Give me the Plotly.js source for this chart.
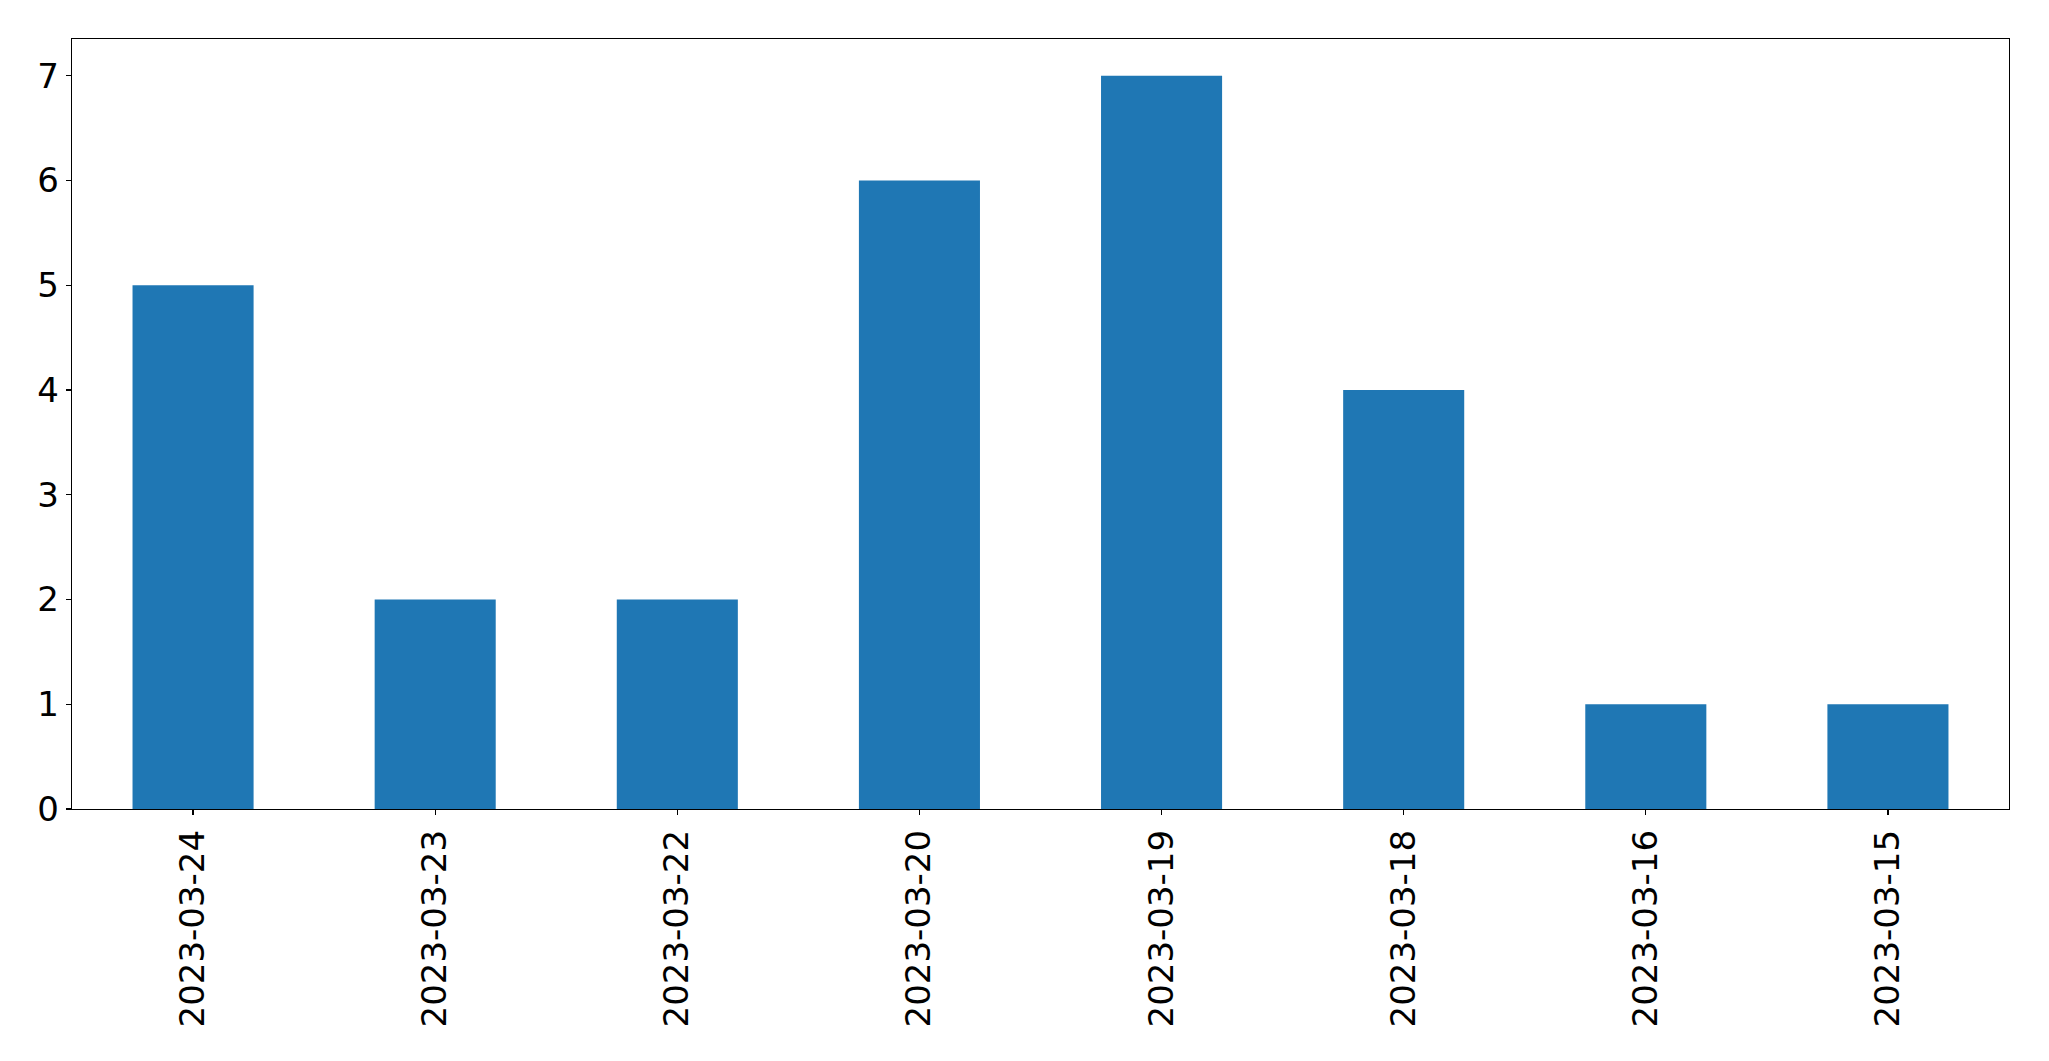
<!DOCTYPE html>
<html>
<head>
<meta charset="utf-8">
<script src="https://cdn.plot.ly/plotly-3.0.1.min.js"></script>
<style>html,body{margin:0;padding:0;background:#fff;}#chart{width:2049px;height:1061px;}</style>
</head>
<body>
<div id="chart"></div>
<script>
const dates = ["2023-03-24","2023-03-23","2023-03-22","2023-03-20","2023-03-19","2023-03-18","2023-03-16","2023-03-15"];
const counts = [5, 2, 2, 6, 7, 4, 1, 1];
const yTicks = [0, 1, 2, 3, 4, 5, 6, 7];

const trace = {
  type: "bar",
  x: dates,
  y: counts,
  width: 0.5,
  marker: {color: "#1f77b4", line: {width: 0}},
  hoverinfo: "x+y"
};

const font = {family: "DejaVu Sans, sans-serif", size: 34, color: "#000"};

const layout = {
  width: 2049,
  height: 1061,
  margin: {l: 72, r: 40, t: 39, b: 252, pad: 0},
  paper_bgcolor: "#fff",
  plot_bgcolor: "#fff",
  showlegend: false,
  bargap: 0.5,
  xaxis: {
    type: "category",
    range: [-0.5, 7.5],
    tickangle: -90,
    tickfont: font,
    ticks: "outside",
    ticklen: 5,
    tickwidth: 1.3,
    tickcolor: "#000",
    showline: true,
    mirror: true,
    linecolor: "#000",
    linewidth: 1.3,
    showgrid: false,
    zeroline: false,
    ticklabelstandoff: 1
  },
  yaxis: {
    range: [0, 7.35],
    tickmode: "array",
    tickvals: yTicks,
    ticktext: yTicks.map(String),
    tickfont: font,
    ticks: "outside",
    ticklen: 5,
    tickwidth: 1.3,
    tickcolor: "#000",
    showline: true,
    mirror: true,
    linecolor: "#000",
    linewidth: 1.3,
    showgrid: false,
    zeroline: false
  }
};

Plotly.newPlot("chart", [trace], layout, {displayModeBar: false, staticPlot: true});
</script>
</body>
</html>
